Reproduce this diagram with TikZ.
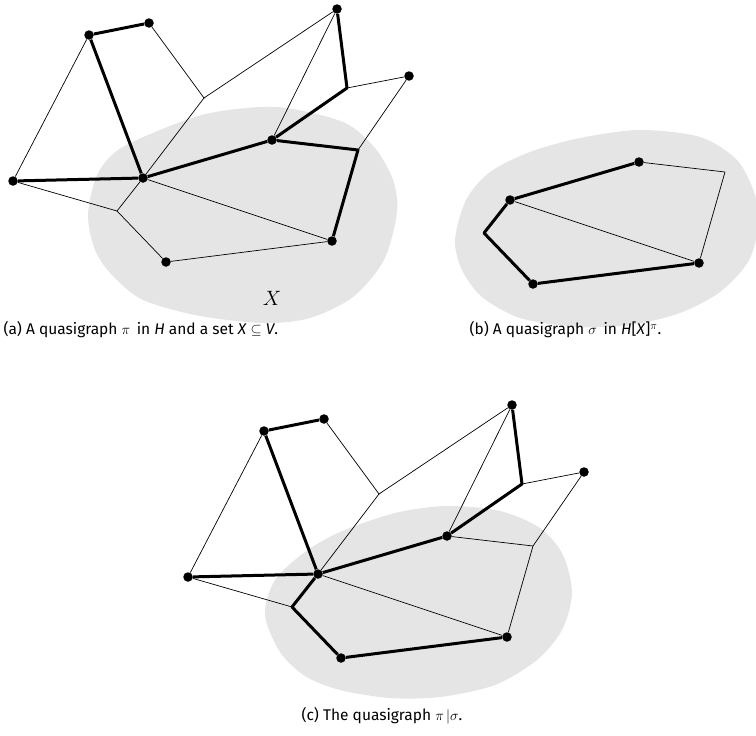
\documentclass[tikz,border=0pt]{standalone}
\usepackage{amsmath, amssymb}
\usepackage{fontspec}
\setmainfont{Fira Sans}
\usepackage{tikz}
\usetikzlibrary{backgrounds}
\usepackage{xcolor}
\definecolor{setgray}{HTML}{E5E5E5}

\tikzset{
  vtx/.style={circle, fill=black, inner sep=0pt, minimum size=9.5pt},
  heavy/.style={line width=3pt, line join=round},
  light/.style={line width=0.7pt},
  capt/.style={font=\fontsize{15.5}{18}\selectfont, anchor=west}
}

\begin{document}
\begin{tikzpicture}[x=1pt, y=-1pt]
  \useasboundingbox (0,0) rectangle (756,736);

  % Shaded sets
  \fill[setgray] plot[smooth cycle] coordinates {
    (88,215) (97,175) (118,150) (160,130) (210,113) (277,107) (343,122)
    (375,148) (393,180) (397,212) (384,260) (353,297) (310,318) (265,323)
    (200,316) (143,300) (112,275) (95,250)};
  \fill[setgray] plot[smooth cycle] coordinates {
    (455,240) (466,200) (490,172) (530,152) (580,138) (640,130) (700,137)
    (737,160) (755,195) (758,228) (748,262) (720,292) (680,313) (630,325)
    (575,327) (520,318) (482,297) (462,270)};
  \fill[setgray] plot[smooth cycle] coordinates {
    (265,615) (275,580) (305,552) (340,532) (395,513) (447,506) (500,511)
    (540,528) (563,555) (572,593) (562,630) (537,660) (495,685) (440,697)
    (390,698) (340,690) (305,676) (280,652)};

  % (a) quasigraph pi in H
  \foreach \n/\x/\y in {A/89/35, B/149/23, T/337/9, R/409/76, P/272/140,
    L/13/181, C/143/178, D/166/262, E/332/241}
    \node[vtx] (a\n) at (\x,\y) {};
  \foreach \n/\x/\y in {M/204/98, U/347/88, Q/358/150, K/117/211}
    \coordinate (a\n) at (\x,\y);
  \foreach \u/\v in {A/L, B/M, M/T, M/C, C/K, T/P, U/R, R/Q, L/K, K/D, D/E, C/E}
    \draw[light] (a\u) -- (a\v);
  \draw[heavy] (aB) -- (aA) -- (aC);
  \draw[heavy] (aL) -- (aC) -- (aP);
  \draw[heavy] (aT) -- (aU) -- (aP);
  \draw[heavy] (aP) -- (aQ) -- (aE);
  \node[font=\fontsize{22}{24}\selectfont] (xlab) at (272,298) {$X$};

  % (b) quasigraph sigma in H[X]^pi
  \begin{scope}[shift={(367,22)}]
    \foreach \n/\x/\y in {P/272/140, C/143/178, D/166/262, E/332/241}
      \node[vtx] (b\n) at (\x,\y) {};
    \foreach \n/\x/\y in {Q/358/150, K/117/211}
      \coordinate (b\n) at (\x,\y);
    \foreach \u/\v in {P/Q, Q/E, C/E}
      \draw[light] (b\u) -- (b\v);
    \draw[heavy] (bP) -- (bC) -- (bK) -- (bD) -- (bE);
  \end{scope}

  % (c) the quasigraph pi|sigma
  \begin{scope}[shift={(175,396)}]
    \foreach \n/\x/\y in {A/89/35, B/149/23, T/337/9, R/409/76, P/272/140,
      L/13/181, C/143/178, D/166/262, E/332/241}
      \node[vtx] (c\n) at (\x,\y) {};
    \foreach \n/\x/\y in {M/204/98, U/347/88, Q/358/150, K/117/211}
      \coordinate (c\n) at (\x,\y);
    \foreach \u/\v in {A/L, B/M, M/T, M/C, T/P, U/R, R/Q, P/Q, Q/E, L/K, C/E}
      \draw[light] (c\u) -- (c\v);
    \draw[heavy] (cB) -- (cA) -- (cC);
    \draw[heavy] (cL) -- (cC) -- (cP);
    \draw[heavy] (cT) -- (cU) -- (cP);
    \draw[heavy] (cC) -- (cK) -- (cD) -- (cE);
  \end{scope}

  % Captions
  \node[capt] (capa) at (0,330) {(a) A quasigraph $\pi$\, in \textit{H} and a set \textit{X} $\subseteq$ \textit{V}.};
  \node[capt] (capb) at (466,330) {(b) A quasigraph $\sigma$\, in \textit{H}[\textit{X}]$^{\pi}$.};
  \node[capt] (capc) at (298,716) {(c) The quasigraph $\pi\,|\sigma$.};
\end{tikzpicture}
\end{document}
